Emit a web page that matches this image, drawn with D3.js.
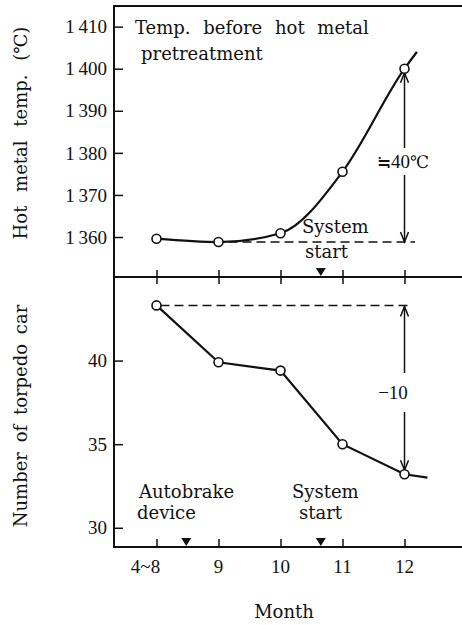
<!DOCTYPE html>
<html>
<head>
<meta charset="utf-8">
<script src="https://cdn.jsdelivr.net/npm/d3@7"></script>
<style>
  body { margin: 0; background: #fff; }
  text { font-family: "DejaVu Serif", "Noto Sans CJK JP", serif; fill: #111; }
  .num { font-family: "Liberation Serif", "DejaVu Serif", serif; }
</style>
</head>
<body>
<div id="chart"></div>
<script>
// month categories (index positions on the x axis)
const months = ["4~8", "9", "10", "11", "12"];
// hot metal temperature before pretreatment (℃)
const tempValues = [1359.6, 1358.8, 1360.9, 1375.5, 1400];
const tempTail = [4.2, 1404];        // line continues past December
// number of torpedo cars
const carValues = [43.3, 39.9, 39.4, 35.0, 33.2];
const carTail = [4.37, 33.0];
const tempTicks = [1360, 1370, 1380, 1390, 1400, 1410];
const carTicks = [30, 35, 40];
// events marked with triangles (month index)
const systemStart = 2.65;
const autobrake = 0.48;

const width = 462, height = 625;
const plotLeft = 114, plotRight = 462;
const plotTop = 6, plotMid = 277, plotBottom = 547;

const svg = d3.select("#chart").append("svg")
  .attr("width", width)
  .attr("height", height);

const x = d3.scaleLinear().domain([0, 4]).range([156.5, 404.5]);
const yT = d3.scaleLinear().domain([1350.5, 1414.9]).range([plotMid, plotTop]);
const yC = d3.scaleLinear().domain([28.85, 45.0]).range([plotBottom, plotMid]);

const fmtTemp = d => {
  const s = String(d);
  return s[0] + "\u2009" + s.slice(1);
};

// frame lines
[plotTop, plotMid, plotBottom].forEach(yy => {
  svg.append("line").attr("x1", plotLeft).attr("x2", plotRight).attr("y1", yy).attr("y2", yy)
    .attr("stroke", "#111").attr("stroke-width", 2);
});
svg.append("line").attr("x1", plotLeft).attr("x2", plotLeft).attr("y1", plotTop - 1).attr("y2", plotBottom + 1)
  .attr("stroke", "#111").attr("stroke-width", 2);

// y axes (ticks pointing inward)
const yAxisT = d3.axisRight(yT).tickValues(tempTicks).tickSize(9).tickFormat("");
const gT = svg.append("g").attr("transform", `translate(${plotLeft},0)`).call(yAxisT);
const yAxisC = d3.axisRight(yC).tickValues(carTicks).tickSize(9).tickFormat("");
const gC = svg.append("g").attr("transform", `translate(${plotLeft},0)`).call(yAxisC);
[gT, gC].forEach(g => {
  g.select(".domain").remove();
  g.selectAll(".tick line").attr("stroke", "#111").attr("stroke-width", 1.5);
});

svg.selectAll(".tlab").data(tempTicks).enter().append("text")
  .attr("class", "num")
  .attr("x", plotLeft - 7).attr("y", d => yT(d))
  .attr("dy", "0.35em").attr("text-anchor", "end")
  .style("font-size", "19px")
  .text(fmtTemp);
svg.selectAll(".clab").data(carTicks).enter().append("text")
  .attr("class", "num")
  .attr("x", plotLeft - 7).attr("y", d => yC(d))
  .attr("dy", "0.35em").attr("text-anchor", "end")
  .style("font-size", "19px")
  .text(d => d);

// x ticks: crossing on the middle line, inward on the bottom axis
const xAxisMid = d3.axisBottom(x).tickValues(d3.range(months.length)).tickSizeInner(7).tickSizeOuter(0).tickFormat("");
const gM = svg.append("g").attr("transform", `translate(0,${plotMid})`).call(xAxisMid);
gM.select(".domain").remove();
gM.selectAll(".tick line").attr("y1", -7).attr("stroke", "#111").attr("stroke-width", 1.5);

const xAxisBot = d3.axisTop(x).tickValues(d3.range(months.length)).tickSize(8).tickFormat("");
const gB = svg.append("g").attr("transform", `translate(0,${plotBottom})`).call(xAxisBot);
gB.select(".domain").remove();
gB.selectAll(".tick line").attr("stroke", "#111").attr("stroke-width", 1.5);

svg.selectAll(".xlab").data(months).enter().append("text")
  .attr("class", "num")
  .attr("x", (d, i) => x(i) + (i === 0 ? -11 : 0))
  .attr("y", 573)
  .attr("text-anchor", "middle")
  .style("font-size", "19px")
  .text(d => d);

// axis titles
svg.append("text")
  .attr("transform", "translate(27,133) rotate(-90)")
  .attr("text-anchor", "middle")
  .style("font-size", "18px")
  .style("word-spacing", "8px")
  .text("Hot metal temp. (℃)");
svg.append("text")
  .attr("transform", "translate(27,416) rotate(-90)")
  .attr("text-anchor", "middle")
  .style("font-size", "18px")
  .style("word-spacing", "4px")
  .text("Number of torpedo car");
svg.append("text")
  .attr("x", 284).attr("y", 618)
  .attr("text-anchor", "middle")
  .style("font-size", "18px")
  .text("Month");

// dashed reference lines
svg.append("line")
  .attr("x1", x(1) + 10).attr("x2", 415)
  .attr("y1", yT(tempValues[1])).attr("y2", yT(tempValues[1]))
  .attr("stroke", "#111").attr("stroke-width", 1.5).attr("stroke-dasharray", "9,5");
svg.append("line")
  .attr("x1", x(0) + 4).attr("x2", 410)
  .attr("y1", yC(carValues[0])).attr("y2", yC(carValues[0]))
  .attr("stroke", "#111").attr("stroke-width", 1.5).attr("stroke-dasharray", "9,5");

// double arrows with a gap for the label
function dimArrow(xp, y1, y2, gapTop, gapBot) {
  const g = svg.append("g").attr("stroke", "#111").attr("stroke-width", 1.5).attr("fill", "none");
  g.append("line").attr("x1", xp).attr("x2", xp).attr("y1", y1).attr("y2", gapTop);
  g.append("line").attr("x1", xp).attr("x2", xp).attr("y1", gapBot).attr("y2", y2);
  g.append("path").attr("d", `M${xp - 4},${y1 + 10}L${xp},${y1}L${xp + 4},${y1 + 10}`);
  g.append("path").attr("d", `M${xp - 4},${y2 - 10}L${xp},${y2}L${xp + 4},${y2 - 10}`);
}
dimArrow(x(4), yT(tempValues[4]) + 4, yT(tempValues[1]), 148, 175);
dimArrow(x(4), yC(carValues[0]) + 1, yC(carValues[4]) - 4, 373, 412);

const approx = svg.append("text").attr("x", 403).attr("y", 168)
  .attr("text-anchor", "middle").style("font-size", "17px");
approx.append("tspan").style("font-family", "'Noto Sans CJK JP'").text("≒");
approx.append("tspan").attr("class", "num").style("font-size", "19px").text("40");
approx.append("tspan").text("℃");
svg.append("text").attr("class", "num").attr("x", 393).attr("y", 399)
  .attr("text-anchor", "middle").style("font-size", "19px").text("−10");

// data lines
const line = d3.line()
  .x(d => x(d[0]))
  .y(d => d[2](d[1]))
  .curve(d3.curveMonotoneX);

const tempPts = tempValues.map((v, i) => [i, v, yT]).concat([[tempTail[0], tempTail[1], yT]]);
const carPts = carValues.map((v, i) => [i, v, yC]).concat([[carTail[0], carTail[1], yC]]);

svg.append("path").datum(tempPts).attr("d", line)
  .attr("fill", "none").attr("stroke", "#111").attr("stroke-width", 2.2);
svg.append("path").datum(carPts).attr("d", line.curve(d3.curveLinear))
  .attr("fill", "none").attr("stroke", "#111").attr("stroke-width", 2.2);

svg.selectAll(".tdot").data(tempValues).enter().append("circle")
  .attr("cx", (d, i) => x(i)).attr("cy", d => yT(d)).attr("r", 4.5)
  .attr("fill", "#fff").attr("stroke", "#111").attr("stroke-width", 1.6);
svg.selectAll(".cdot").data(carValues).enter().append("circle")
  .attr("cx", (d, i) => x(i)).attr("cy", d => yC(d)).attr("r", 4.5)
  .attr("fill", "#fff").attr("stroke", "#111").attr("stroke-width", 1.6);

// event triangles
function tri(xi, yb) {
  const xp = x(xi);
  svg.append("path").attr("d", `M${xp - 5},${yb - 8}L${xp + 5},${yb - 8}L${xp},${yb}Z`).attr("fill", "#111");
}
tri(systemStart, plotMid - 1);
tri(systemStart, plotBottom - 1);
tri(autobrake, plotBottom - 1);

// annotation text
function label(lines, xs, ys, ws) {
  lines.forEach((t, i) => {
    svg.append("text").attr("x", xs[i]).attr("y", ys[i])
      .style("font-size", "18px").style("word-spacing", (ws || 0) + "px").text(t);
  });
}
label(["Temp. before hot metal", "pretreatment"], [135, 141], [34, 60], 7);
label(["System", "start"], [302, 305], [233, 258]);
label(["Autobrake", "device"], [139, 137], [498, 519]);
label(["System", "start"], [292, 299], [498, 519]);
</script>
</body>
</html>
